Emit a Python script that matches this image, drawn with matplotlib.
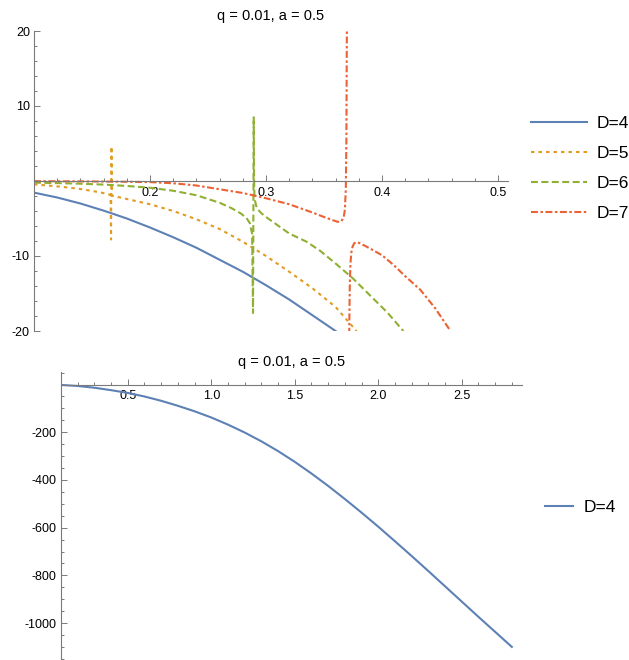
import numpy as np
import matplotlib
matplotlib.use("Agg")
import matplotlib.pyplot as plt
from matplotlib.ticker import MultipleLocator, FixedLocator, FuncFormatter

plt.rcParams['font.family'] = ['Liberation Sans', 'DejaVu Sans']
plt.rcParams['lines.scale_dashes'] = False

# ---------------- data ----------------
title_text = "q = 0.01, a = 0.5"
labels = ["D=4", "D=5", "D=6", "D=7"]

d4_x = [0.10, 0.12, 0.14, 0.16, 0.18, 0.20, 0.22, 0.24, 0.26, 0.28, 0.30, 0.32, 0.34, 0.36]
d4_y = [-1.55, -2.2, -3.0, -3.95, -5.0, -6.2, -7.5, -8.9, -10.5, -12.1, -13.9, -15.8, -17.9, -20.0]

d5_x = [0.100, 0.110, 0.120, 0.130, 0.140, 0.150, 0.158, 0.163, 0.1660, 0.1664, 0.1668, 0.1672,
        0.170, 0.180, 0.190, 0.200, 0.220, 0.240, 0.260, 0.280, 0.300, 0.320, 0.340, 0.360, 0.378]
d5_y = [-0.45, -0.58, -0.72, -0.88, -1.07, -1.32, -1.55, -1.72, -1.85, -7.8, 4.6, -1.95,
        -2.05, -2.4, -2.75, -3.1, -4.0, -5.1, -6.4, -8.1, -10.0, -12.1, -14.3, -16.8, -20.0]

d6_x = [0.10, 0.12, 0.14, 0.16, 0.18, 0.20, 0.22, 0.24, 0.26, 0.27, 0.278, 0.283, 0.286, 0.2880,
        0.2888, 0.2894, 0.2897, 0.2900, 0.2905, 0.2915, 0.2930, 0.2960, 0.300, 0.310, 0.320, 0.335,
        0.3466, 0.360, 0.375, 0.390, 0.405, 0.4184]
d6_y = [-0.22, -0.28, -0.36, -0.48, -0.66, -0.90, -1.3, -1.9, -2.9, -3.6, -4.3, -4.9, -5.6, -7.0,
        -17.6, 8.5, 0.5, -1.8, -2.6, -3.3, -3.8, -4.3, -4.8, -5.9, -7.0, -8.1,
        -9.3, -11.0, -13.0, -15.3, -17.6, -20.0]

d7_left_x = [0.10, 0.14, 0.18, 0.20, 0.22, 0.24, 0.26, 0.28, 0.30, 0.32, 0.34, 0.350, 0.357,
             0.362, 0.365, 0.367, 0.368, 0.3688, 0.3693, 0.3697]
d7_left_y = [-0.02, -0.05, -0.1, -0.15, -0.3, -0.6, -1.1, -1.6, -2.3, -3.1, -4.2, -4.8, -5.2,
             -5.45, -5.35, -4.8, -3.8, -1.0, 6.0, 20.5]
d7_right_x = [0.3717, 0.3722, 0.3728, 0.3735, 0.3745, 0.376, 0.378, 0.381, 0.386, 0.392, 0.400,
              0.410, 0.420, 0.433, 0.446, 0.4586]
d7_right_y = [-20.5, -14.0, -11.0, -9.6, -8.8, -8.3, -8.15, -8.3, -8.7, -9.2, -9.9,
              -11.2, -12.7, -14.5, -17.0, -19.9]

big_x = [0.1, 0.2, 0.3, 0.4, 0.5, 0.6, 0.7, 0.8, 0.9, 1.0, 1.1, 1.2, 1.3, 1.4,
         1.5, 1.6, 1.7, 1.8, 1.9, 2.0, 2.1, 2.2, 2.3, 2.4, 2.5, 2.6, 2.7, 2.8]
big_y = [-1.5, -5.9, -13.2, -23.5, -35, -50, -68, -89, -112, -138, -168, -201, -238, -279,
         -324, -373, -425, -480, -537, -596, -657, -719, -782, -846, -910, -974, -1037, -1100]

colors = ["#5E81B5", "#E19C24", "#8FB032", "#EB6235"]
dashes = [None, (2.5, 2.9), (5.0, 2.5), (5.0, 1.8, 1.8, 1.8)]
LW = 1.5

# ---------------- figure ----------------
W, H = 629, 660
fig = plt.figure(figsize=(W / 100, H / 100), dpi=100)

def px_axes(x0, x1, ytop, ybot):
    return fig.add_axes([x0 / W, 1 - ybot / H, (x1 - x0) / W, (ybot - ytop) / H])

axis_col = "#7a7a7a"

def fmt_y(v, p):
    return f"-{abs(v):.0f}" if v < 0 else f"{v:.0f}"

def style_axes(ax):
    for s in ("top", "right"):
        ax.spines[s].set_visible(False)
    ax.spines["bottom"].set_position(("data", 0))
    for s in ("left", "bottom"):
        ax.spines[s].set_color(axis_col)
        ax.spines[s].set_linewidth(0.8)
    ax.tick_params(which="both", direction="in", color=axis_col, width=0.7,
                   labelsize=9, labelcolor="black")
    ax.tick_params(which="major", length=4)
    ax.tick_params(which="minor", length=2.2)
    ax.tick_params(axis="x", pad=4)
    ax.tick_params(axis="y", pad=3)
    ax.patch.set_alpha(0)

# ---- top plot ----
ax1 = px_axes(34, 508, 31, 331)
style_axes(ax1)
ax1.set_xlim(0.1, 0.5086)
ax1.set_ylim(-20, 20)
ax1.xaxis.set_major_locator(FixedLocator([0.2, 0.3, 0.4, 0.5]))
ax1.xaxis.set_minor_locator(FixedLocator([round(0.12 + 0.02 * i, 2) for i in range(20)]))
ax1.yaxis.set_major_locator(FixedLocator([-20, -10, 10, 20]))
ax1.yaxis.set_minor_locator(MultipleLocator(2))
ax1.xaxis.set_major_formatter(FuncFormatter(lambda v, p: f"{v:.1f}"))
ax1.yaxis.set_major_formatter(FuncFormatter(fmt_y))

h4, = ax1.plot(d4_x, d4_y, color=colors[0], lw=LW, label=labels[0])
h5, = ax1.plot(d5_x, d5_y, color=colors[1], lw=LW, dashes=dashes[1], label=labels[1])
h6, = ax1.plot(d6_x, d6_y, color=colors[2], lw=LW, dashes=dashes[2], label=labels[2])
h7, = ax1.plot(d7_left_x, d7_left_y, color=colors[3], lw=LW, dashes=dashes[3], label=labels[3])
ax1.plot(d7_right_x, d7_right_y, color=colors[3], lw=LW, dashes=dashes[3])
ax1.set_title(title_text, fontsize=10.5, pad=8)

leg1 = ax1.legend(handles=[h4, h5, h6, h7], loc="center left",
                  bbox_to_anchor=(531 / W, 1 - 168.5 / H), bbox_transform=fig.transFigure,
                  frameon=False, fontsize=12.5, borderpad=0, borderaxespad=0,
                  handlelength=3.2, handletextpad=0.6, labelspacing=0.85)

# ---- bottom plot ----
ax2 = px_axes(61, 521.7, 371.7, 660)
style_axes(ax2)
ax2.set_xlim(0.1, 2.859)
ax2.set_ylim(-1155, 54)
ax2.xaxis.set_major_locator(FixedLocator([0.5, 1.0, 1.5, 2.0, 2.5]))
ax2.xaxis.set_minor_locator(FixedLocator([round(0.2 + 0.1 * i, 1) for i in range(27)]))
ax2.yaxis.set_major_locator(FixedLocator([-1000, -800, -600, -400, -200]))
ax2.yaxis.set_minor_locator(MultipleLocator(50))
ax2.xaxis.set_major_formatter(FuncFormatter(lambda v, p: f"{v:.1f}"))
ax2.yaxis.set_major_formatter(FuncFormatter(fmt_y))
hb, = ax2.plot(big_x, big_y, color=colors[0], lw=LW, label=labels[0])
ax2.set_title(title_text, fontsize=10.5, pad=4)
ax2.legend(handles=[hb], loc="center left",
           bbox_to_anchor=(545 / W, 1 - 507.3 / H), bbox_transform=fig.transFigure,
           frameon=False, fontsize=12.5, borderpad=0, borderaxespad=0,
           handlelength=1.6, handletextpad=0.6)

fig.savefig("out.png", dpi=100)
